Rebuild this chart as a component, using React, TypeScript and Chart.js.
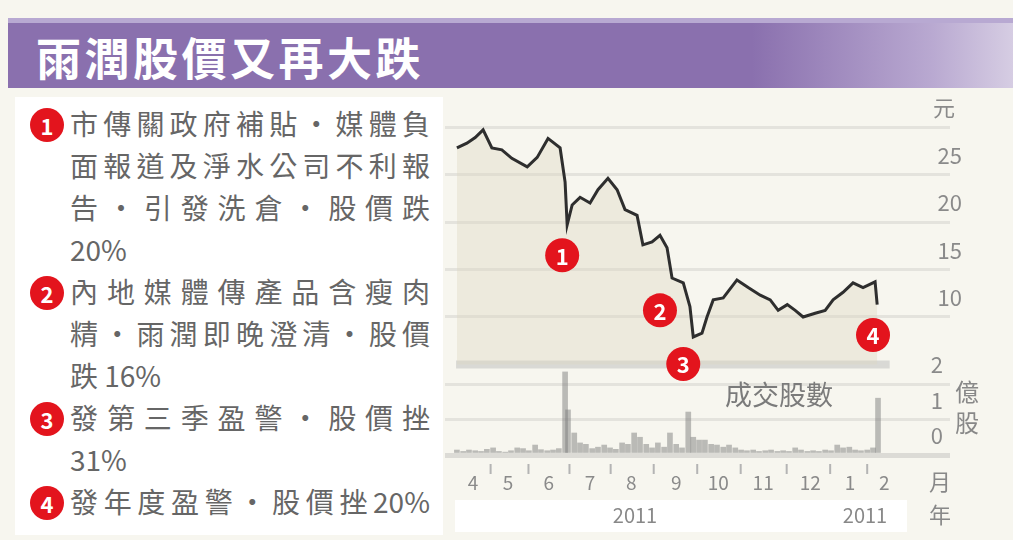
import { useEffect, useRef } from 'react'
import { Chart, registerables } from 'chart.js'

Chart.register(...registerables)

const FONT = '"Noto Sans CJK TC", "Noto Sans", sans-serif'

// x 軸以月為單位：0 = 2011 年 4 月初，1 = 5 月初 ...
const PRICE_X = [
  0.18, 0.42, 0.62, 0.81, 1.02, 1.26, 1.5, 1.87, 2.11, 2.37, 2.66, 2.78, 2.83, 2.95, 3.14, 3.38, 3.57, 3.81,
  4.03, 4.22, 4.51, 4.65, 4.87, 5.06, 5.23, 5.35, 5.62, 5.78, 5.86, 6.07, 6.19, 6.34, 6.58, 6.91, 7.18, 7.47,
  7.71, 7.9, 8.12, 8.31, 8.5, 8.79, 9.03, 9.22, 9.46, 9.7, 9.94, 10.23, 10.28,
]
const PRICE_Y = [
  27.8, 28.3, 28.9, 29.7, 27.8, 27.6, 26.7, 25.8, 26.8, 28.8, 27.8, 24.2, 19.7, 21.8, 22.6, 22.0, 23.4, 24.6,
  23.4, 21.3, 20.7, 17.6, 17.9, 18.6, 17.3, 14.1, 13.6, 11.1, 7.9, 8.3, 10.0, 11.8, 12.0, 13.9, 13.1, 12.3,
  11.8, 10.7, 11.3, 10.7, 10.0, 10.4, 10.7, 11.8, 12.6, 13.6, 13.1, 13.7, 11.3,
]

const VOLUME_X = [
  0.18, 0.33, 0.47, 0.62, 0.76, 0.9, 1.05, 1.19, 1.34, 1.48, 1.63, 1.77, 1.91, 2.06, 2.2, 2.35, 2.49, 2.63,
  2.78, 2.85, 3.0, 3.14, 3.28, 3.43, 3.57, 3.72, 3.86, 4.0, 4.15, 4.29, 4.44, 4.58, 4.73, 4.87, 5.01, 5.16,
  5.3, 5.45, 5.59, 5.74, 5.86, 6.0, 6.14, 6.29, 6.43, 6.58, 6.72, 6.87, 7.01, 7.15, 7.3, 7.44, 7.59, 7.73,
  7.88, 8.02, 8.16, 8.31, 8.45, 8.6, 8.74, 8.88, 9.03, 9.17, 9.32, 9.46, 9.61, 9.75, 9.89, 10.04, 10.18, 10.3,
]
const VOLUME_Y = [
  0.14, 0.1, 0.14, 0.12, 0.1, 0.16, 0.2, 0.1, 0.08, 0.12, 0.2, 0.18, 0.12, 0.28, 0.15, 0.12, 0.14, 0.18,
  2.34, 1.27, 0.62, 0.34, 0.3, 0.18, 0.22, 0.28, 0.2, 0.16, 0.34, 0.3, 0.62, 0.5, 0.3, 0.2, 0.34, 0.22,
  0.62, 0.3, 0.2, 1.21, 0.5, 0.42, 0.42, 0.3, 0.28, 0.22, 0.28, 0.2, 0.14, 0.12, 0.14, 0.1, 0.12, 0.14,
  0.1, 0.12, 0.1, 0.2, 0.14, 0.1, 0.12, 0.1, 0.14, 0.12, 0.28, 0.2, 0.22, 0.14, 0.12, 0.14, 0.2, 1.6,
]

const EVENT_X = [2.71, 5.06, 5.62, 10.18]
const EVENT_Y = [16.5, 10.7, 5.05, 8.1]
const EVENT_NO = ['1', '2', '3', '4']

const MONTH_POS = [0.57, 1.41, 2.39, 3.38, 4.37, 5.45, 6.46, 7.54, 8.67, 9.63, 10.45]
const MONTH_LABELS = ['4', '5', '6', '7', '8', '9', '10', '11', '12', '1', '2']

const PRICE_TICKS = [10, 15, 20, 25, 30]
const PRICE_TICK_LABELS = ['10', '15', '20', '25', '元']
const VOLUME_TICKS = [0, 1, 2]
const PRICE_BASE = 5
const BASE_X = [0.16, 10.58]

const NOTES = [
  ['市傳關政府補貼・媒體負', '面報道及淨水公司不利報', '告・引發洗倉・股價跌', '20%'],
  ['內地媒體傳產品含瘦肉', '精・雨潤即晚澄清・股價', '跌 16%'],
  ['發第三季盈警・股價挫', '31%'],
  ['發年度盈警・股價挫20%'],
]

const axisText = {
  id: 'axisText',
  afterDraw(chart: any) {
    const { ctx, chartArea, scales } = chart
    const xs = scales.x
    const yp = scales.y
    const yv = scales.yv
    ctx.save()
    ctx.fillStyle = '#8a8a8a'
    ctx.font = `22px ${FONT}`
    ctx.textBaseline = 'alphabetic'
    ctx.textAlign = 'right'
    PRICE_TICKS.forEach((v, i) => {
      const label = PRICE_TICK_LABELS[i]
      const x = label === '元' ? chartArea.right + 5 : chartArea.right + 12
      ctx.fillText(label, x, yp.getPixelForValue(v) - 11)
    })
    VOLUME_TICKS.forEach((v) => {
      ctx.fillText(String(v), chartArea.right - 7, yv.getPixelForValue(v) - 11)
    })

    ctx.font = `19px ${FONT}`
    ctx.textAlign = 'center'
    ctx.textBaseline = 'middle'
    MONTH_POS.forEach((m, i) => {
      ctx.fillText(MONTH_LABELS[i], xs.getPixelForValue(m), chartArea.bottom + 28)
    })
    ctx.strokeStyle = '#b4b4b4'
    ctx.lineWidth = 2
    for (let i = 1; i < MONTH_POS.length; i++) {
      const px = xs.getPixelForValue((MONTH_POS[i - 1] + MONTH_POS[i]) / 2)
      ctx.beginPath()
      ctx.moveTo(px, chartArea.bottom + 9)
      ctx.lineTo(px, chartArea.bottom + 19)
      ctx.stroke()
    }
    ctx.restore()
  },
}

const eventNumbers = {
  id: 'eventNumbers',
  afterDatasetsDraw(chart: any) {
    const { ctx } = chart
    const meta = chart.getDatasetMeta(0)
    ctx.save()
    ctx.fillStyle = '#ffffff'
    ctx.font = `bold 22px ${FONT}`
    ctx.textAlign = 'center'
    ctx.textBaseline = 'middle'
    meta.data.forEach((pt: any, i: number) => {
      ctx.fillText(EVENT_NO[i], pt.x, pt.y + 1)
    })
    ctx.restore()
  },
}

function StockChart() {
  const canvasRef = useRef<HTMLCanvasElement>(null)

  useEffect(() => {
    const canvas = canvasRef.current
    if (!canvas) return

    const chart = new Chart(canvas, {
      type: 'line',
      data: {
        datasets: [
          {
            type: 'scatter',
            label: '事件',
            data: EVENT_X.map((x, i) => ({ x, y: EVENT_Y[i] })),
            yAxisID: 'y',
            pointRadius: 17,
            pointBackgroundColor: '#e3141d',
            pointBorderWidth: 0,
            clip: false,
            order: 0,
          },
          {
            label: '股價',
            data: PRICE_X.map((x, i) => ({ x, y: PRICE_Y[i] })),
            yAxisID: 'y',
            borderColor: '#2e2e2e',
            borderWidth: 3,
            pointRadius: 0,
            tension: 0,
            fill: { value: PRICE_BASE },
            backgroundColor: 'rgba(222,216,192,0.38)',
            order: 1,
          },
          {
            label: '底線',
            data: BASE_X.map((x) => ({ x, y: PRICE_BASE })),
            yAxisID: 'y',
            borderColor: '#d9d9d5',
            borderWidth: 8,
            pointRadius: 0,
            order: 2,
          },
          {
            type: 'bar',
            label: '成交股數',
            data: VOLUME_X.map((x, i) => ({ x, y: VOLUME_Y[i] })),
            yAxisID: 'yv',
            backgroundColor: 'rgba(125,125,125,0.5)',
            barThickness: 5,
            order: 3,
          },
        ] as any,
      },
      options: {
        animation: false,
        responsive: false,
        events: [],
        layout: { autoPadding: false, padding: { left: 5, right: 63, top: 13, bottom: 85 } },
        plugins: { legend: { display: false }, tooltip: { enabled: false } },
        scales: {
          x: { type: 'linear', min: -0.106, max: 12.03, display: false, offset: false },
          y: {
            type: 'linear',
            position: 'right',
            min: -4.53,
            max: 32.32,
            border: { display: false },
            ticks: { display: false },
            grid: { drawTicks: false, color: '#e4e3dd', lineWidth: 3 },
            afterBuildTicks: (s: any) => {
              s.ticks = PRICE_TICKS.map((v) => ({ value: v }))
            },
          },
          yv: {
            type: 'linear',
            position: 'right',
            min: 0,
            max: 9.86,
            border: { display: false },
            ticks: { display: false },
            grid: {
              drawTicks: false,
              color: (c: any) => (c.tick?.value === 0 ? '#dcdbd6' : '#e4e3dd'),
              lineWidth: (c: any) => (c.tick?.value === 0 ? 5 : 3),
            },
            afterBuildTicks: (s: any) => {
              s.ticks = VOLUME_TICKS.map((v) => ({ value: v }))
            },
          },
        },
      } as any,
      plugins: [axisText, eventNumbers],
    })

    return () => chart.destroy()
  }, [])

  return (
    <canvas
      ref={canvasRef}
      width={573}
      height={448}
      style={{ position: 'absolute', left: 440, top: 92, width: 573, height: 448 }}
    />
  )
}

const label = (text: string, x: number, y: number, size: number, color = '#888') => (
  <div
    style={{
      position: 'absolute',
      left: x,
      top: y,
      transform: 'translate(-50%, -50%)',
      fontSize: size,
      lineHeight: 1,
      color,
      whiteSpace: 'nowrap',
    }}
  >
    {text}
  </div>
)

function NoteLine({ text, justify }: { text: string; justify: boolean }) {
  if (!justify) return <div style={{ height: 42, lineHeight: '42px' }}>{text}</div>
  const tokens = text.match(/[0-9%]+|./gu) ?? []
  return (
    <div style={{ height: 42, lineHeight: '42px', display: 'flex', justifyContent: 'space-between' }}>
      {tokens.map((t, i) => (
        <span key={i}>{t}</span>
      ))}
    </div>
  )
}

export default function App() {
  return (
    <div
      style={{
        position: 'fixed',
        left: 0,
        top: 0,
        width: 1013,
        height: 540,
        overflow: 'hidden',
        background: '#f7f6ef',
        fontFamily: FONT,
      }}
    >
      <div
        style={{
          position: 'absolute',
          left: 8,
          top: 18,
          width: 1005,
          height: 70,
          background: 'linear-gradient(to right, #8a70ae 0%, #8a70ae 74%, #b9a9d1 92%, #d6cde3 100%)',
          borderTop: '5px solid #b8a9d2',
          boxSizing: 'border-box',
        }}
      >
        <div
          style={{
            position: 'absolute',
            left: 28,
            top: 33,
            transform: 'translateY(-50%)',
            color: '#ffffff',
            fontSize: 45,
            fontWeight: 700,
            letterSpacing: 3.5,
            lineHeight: 1,
          }}
        >
          雨潤股價又再大跌
        </div>
      </div>

      <div style={{ position: 'absolute', left: 15, top: 97, width: 428, height: 438, background: '#ffffff' }} />
      <div style={{ position: 'absolute', left: 455, top: 500, width: 452, height: 32, background: '#ffffff' }} />

      <div style={{ position: 'absolute', left: 0, top: 102, width: 450, color: '#666666', fontSize: 28 }}>
        {NOTES.map((lines, n) => (
          <div key={n} style={{ position: 'relative', paddingLeft: 70, width: 360 }}>
            <div
              style={{
                position: 'absolute',
                left: 30,
                top: 6,
                width: 34,
                height: 34,
                borderRadius: '50%',
                background: '#e3141d',
                color: '#fff',
                fontWeight: 700,
                fontSize: 22,
                lineHeight: '34px',
                textAlign: 'center',
              }}
            >
              {n + 1}
            </div>
            {lines.map((line, i) => (
              <NoteLine key={i} text={line} justify={Array.from(line).length >= 6} />
            ))}
          </div>
        ))}
      </div>

      <StockChart />

      {label('成交股數', 779, 393, 27, '#7b7b7b')}
      {label('億', 967, 391, 24)}
      {label('股', 967, 422, 24)}
      {label('月', 940, 480, 22)}
      {label('年', 940, 513, 22)}
      {label('2011', 635, 515, 20)}
      {label('2011', 865, 515, 20)}
    </div>
  )
}
